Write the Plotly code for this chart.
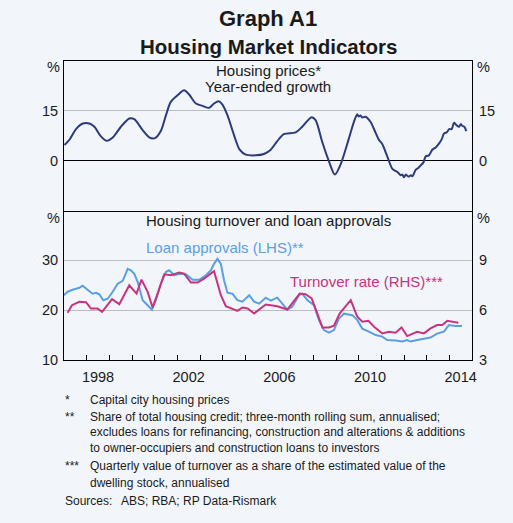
import plotly.graph_objects as go

# ---------------- data ----------------
price_x = [1997.02, 1997.24, 1997.53, 1997.83, 1998.12, 1998.34, 1998.63, 1998.88,
           1999.15, 1999.51, 1999.88, 2000.10, 2000.47, 2000.76, 2001.02, 2001.27,
           2001.50, 2001.71, 2002.01, 2002.30, 2002.52, 2002.82, 2003.11, 2003.40,
           2003.62, 2003.82, 2003.99, 2004.21, 2004.50, 2004.75, 2005.02, 2005.46,
           2005.82, 2006.12, 2006.41, 2006.70, 2007.22, 2007.51, 2007.92, 2008.10,
           2008.39, 2008.69, 2008.95, 2009.20, 2009.57, 2009.79, 2009.94, 2010.00,
           2010.08, 2010.16, 2010.30, 2010.52, 2010.74, 2010.89, 2011.04, 2011.26,
           2011.48, 2011.60, 2011.71, 2011.85, 2011.93, 2012.00, 2012.08, 2012.20,
           2012.30, 2012.37, 2012.52, 2012.63, 2012.74, 2012.85, 2012.96, 2013.10,
           2013.25, 2013.40, 2013.55, 2013.66, 2013.77, 2013.90, 2013.99, 2014.10,
           2014.21, 2014.30, 2014.43, 2014.50, 2014.57, 2014.66, 2014.75]
price_y = [4.7, 6.3, 9.5, 11.2, 11.2, 10.2, 7.3, 6.0,
           7.0, 10.2, 12.7, 12.5, 9.2, 7.0, 6.8, 8.9,
           13.7, 17.7, 19.7, 21.2, 19.9, 17.2, 16.5, 15.9,
           17.2, 17.9, 16.9, 13.7, 7.7, 3.3, 1.8, 1.6,
           2.0, 3.3, 5.9, 8.0, 8.5, 10.2, 13.1, 12.2,
           5.7, -0.2, -4.2, -1.2, 6.7, 11.7, 14.0, 13.3,
           13.6, 13.0, 13.2, 11.7, 8.5, 6.3, 5.0, 1.3,
           -2.4, -3.0, -3.4, -4.4, -4.2, -5.0, -4.2, -4.8,
           -4.4, -4.7, -2.7, -2.2, -1.4, -0.6, 1.3, 1.6,
           3.3, 4.0, 5.2, 6.4, 8.2, 8.6, 9.5, 9.5,
           11.4, 10.8, 10.2, 11.0, 10.5, 10.2, 8.9]

loan_x = [1996.99, 1997.16, 1997.38, 1997.68, 1997.82, 1998.04, 1998.26, 1998.41,
          1998.56, 1998.73, 1998.93, 1999.15, 1999.37, 1999.59, 1999.66, 1999.81,
          1999.95, 2000.10, 2000.25, 2000.47, 2000.69, 2000.88, 2001.05, 2001.27,
          2001.50, 2001.64, 2001.86, 2002.08, 2002.38, 2002.67, 2002.96, 2003.26,
          2003.48, 2003.62, 2003.77, 2003.92, 2004.06, 2004.21, 2004.43, 2004.65,
          2004.87, 2005.17, 2005.39, 2005.61, 2005.90, 2006.12, 2006.41, 2006.63,
          2006.85, 2007.07, 2007.37, 2007.51, 2007.74, 2008.03, 2008.25, 2008.47,
          2008.69, 2008.91, 2009.13, 2009.35, 2009.72, 2009.94, 2010.16, 2010.45,
          2010.75, 2011.04, 2011.26, 2011.63, 2011.92, 2012.14, 2012.29, 2012.58,
          2012.88, 2013.17, 2013.46, 2013.76, 2013.98, 2014.27, 2014.56]
loan_y = [23.0, 23.7, 24.1, 24.5, 24.9, 24.0, 23.3, 23.5,
          23.2, 22.0, 22.3, 23.7, 25.3, 25.9, 26.7, 28.3,
          28.0, 27.3, 25.7, 22.0, 21.0, 20.1, 22.0, 25.3,
          27.7, 28.0, 27.0, 27.3, 27.2, 26.1, 26.1, 27.0,
          28.0, 29.3, 30.3, 29.3, 26.0, 23.5, 23.3, 22.0,
          21.7, 23.0, 21.7, 21.3, 22.5, 21.9, 22.5, 21.3,
          20.1, 20.7, 23.0, 23.3, 22.0, 21.0, 18.0, 16.0,
          15.5, 16.0, 18.3, 19.3, 19.0, 18.0, 16.3, 15.7,
          15.0, 14.7, 14.0, 13.9, 13.7, 14.0, 13.7, 14.0,
          14.3, 14.5, 15.3, 15.7, 17.0, 16.8, 16.8]

turn_x = [1997.16, 1997.35, 1997.68, 1997.97, 1998.19, 1998.48, 1998.68, 1999.12,
          1999.44, 1999.88, 2000.20, 2000.42, 2000.69, 2000.91, 2001.13, 2001.42,
          2001.72, 2002.08, 2002.30, 2002.60, 2002.89, 2003.18, 2003.62, 2003.92,
          2004.14, 2004.65, 2004.87, 2005.10, 2005.39, 2005.90, 2006.41, 2006.85,
          2007.40, 2007.66, 2007.93, 2008.22, 2008.40, 2008.69, 2008.91, 2009.16,
          2009.65, 2009.94, 2010.16, 2010.43, 2010.68, 2011.04, 2011.33, 2011.63,
          2011.89, 2012.14, 2012.58, 2012.88, 2013.17, 2013.46, 2013.69, 2013.91,
          2014.21, 2014.40]
turn_y = [5.84, 6.3, 6.5, 6.48, 6.1, 6.1, 5.9, 6.66,
          6.36, 7.5, 7.0, 7.84, 7.1, 6.16, 7.0, 8.16,
          8.1, 8.26, 8.2, 7.66, 7.66, 7.9, 8.35, 6.9,
          6.24, 5.96, 6.16, 6.1, 5.8, 6.34, 6.24, 6.04,
          7.0, 6.96, 6.7, 5.6, 4.96, 4.96, 5.06, 5.8,
          6.6, 5.6, 5.3, 5.36, 5.0, 4.6, 4.7, 4.64,
          4.96, 4.44, 4.7, 4.6, 4.9, 5.1, 5.1, 5.36,
          5.3, 5.24]

year_label_pos = [1998.5, 2002.5, 2006.5, 2010.5, 2014.5]
year_labels = ["1998", "2002", "2006", "2010", "2014"]
year_ticks = list(range(1998, 2015))

top_ticks = [0, 15]
top_labels = ["0", "15"]
lhs_ticks = [10, 20, 30]
lhs_labels = ["10", "20", "30"]
rhs_ticks = [3, 6, 9]
rhs_labels = ["3", "6", "9"]

# ---------------- styling ----------------
BG = "#F2F6FA"
NAVY = "#2C3B7C"
BLUE = "#5B9FE3"
MAGENTA = "#C8327F"
GRID = "#BDBDBD"
FONT = "Liberation Sans, Arial, sans-serif"
TXT = "#1a1a1a"

fig = go.Figure()
fig.add_trace(go.Scatter(x=price_x, y=price_y, mode="lines", xaxis="x2", yaxis="y",
                         line=dict(color=NAVY, width=2, shape="spline", smoothing=0.8),
                         hoverinfo="skip", showlegend=False))
fig.add_trace(go.Scatter(x=loan_x, y=loan_y, mode="lines", xaxis="x", yaxis="y2",
                         line=dict(color=BLUE, width=2), showlegend=False))
fig.add_trace(go.Scatter(x=turn_x, y=turn_y, mode="lines", xaxis="x", yaxis="y4",
                         line=dict(color=MAGENTA, width=2), showlegend=False))
# right-hand axis of top panel (same scale as left)
fig.add_trace(go.Scatter(x=price_x, y=price_y, mode="lines", xaxis="x2", yaxis="y3",
                         line=dict(color="rgba(0,0,0,0)", width=0),
                         hoverinfo="skip", showlegend=False))

tickfont = dict(family=FONT, size=14.5, color=TXT)
xr = [1997, 2015]

fig.update_layout(
    width=513, height=523,
    margin=dict(l=64, r=41, t=61, b=163),
    paper_bgcolor=BG, plot_bgcolor=BG,
    font=dict(family=FONT, color=TXT),
    xaxis=dict(domain=[0, 1], anchor="y2", range=xr, showgrid=False, zeroline=False,
               showline=True, linecolor="black", linewidth=1,
               tickmode="array", tickvals=year_label_pos, ticktext=year_labels,
               ticks="", tickfont=tickfont, ticklabelstandoff=4,
               minor=dict(tickmode="array", tickvals=year_ticks, ticks="inside",
                          ticklen=5, tickcolor="black", tickwidth=1, showgrid=False)),
    xaxis2=dict(domain=[0, 1], anchor="y", range=xr, showgrid=False, zeroline=False,
                showline=True, mirror=True, linecolor="black", linewidth=1,
                showticklabels=False, ticks=""),
    yaxis=dict(domain=[0.5, 1], anchor="x2", range=[-15, 30], tickmode="array",
               tickvals=top_ticks, ticktext=top_labels, showgrid=True, gridcolor=GRID,
               gridwidth=1, zeroline=True, zerolinecolor="black", zerolinewidth=1,
               showline=True, linecolor="black", linewidth=1, ticks="",
               tickfont=tickfont, ticklabelstandoff=2),
    yaxis3=dict(overlaying="y", side="right", anchor="x2", range=[-15, 30],
                tickmode="array", tickvals=top_ticks, ticktext=top_labels,
                showgrid=False, zeroline=False, showline=True, linecolor="black",
                linewidth=1, ticks="", tickfont=tickfont, ticklabelstandoff=3),
    yaxis2=dict(domain=[0, 0.5], anchor="x", range=[10, 40], tickmode="array",
                tickvals=lhs_ticks, ticktext=lhs_labels, showgrid=True, gridcolor=GRID,
                gridwidth=1, zeroline=False, showline=True, linecolor="black",
                linewidth=1, ticks="", tickfont=tickfont, ticklabelstandoff=2),
    yaxis4=dict(overlaying="y2", side="right", anchor="x", range=[3, 12],
                tickmode="array", tickvals=rhs_ticks, ticktext=rhs_labels,
                showgrid=False, zeroline=False, showline=True, linecolor="black",
                linewidth=1, ticks="", tickfont=tickfont, ticklabelstandoff=3),
)

ann = []
def text(x, y, s, size=15, color=TXT, xanchor="center", yanchor="middle",
         xref="paper", yref="paper", bold=False, xshift=0, yshift=0):
    ann.append(dict(x=x, y=y, xref=xref, yref=yref, text=(f"<b>{s}</b>" if bold else s),
                    showarrow=False, xanchor=xanchor, yanchor=yanchor,
                    xshift=xshift, yshift=yshift,
                    font=dict(family=FONT, size=size, color=color)))

W, H = 513, 523
L, R, T, B = 64, 472, 61, 360
def px(xp):  # pixel x -> paper
    return (xp - L) / (R - L)
def py(yp):  # pixel y -> paper
    return (B - yp) / (B - T)

# titles
text(px(268), py(18), "Graph A1", size=22, bold=True)
text(px(268), py(46), "Housing Market Indicators", size=20.5, bold=True)

# % unit labels
for yy in (67, 218):
    text(0, py(yy), "%", size=14.5, xanchor="right", xshift=-2)
    text(1, py(yy), "%", size=14.5, xanchor="left", xshift=3)

# panel titles and series labels
text(px(268), py(70), "Housing prices*", size=15)
text(px(268), py(86), "Year-ended growth", size=15)
text(px(268), py(220), "Housing turnover and loan approvals", size=15)
text(px(144), py(247), "Loan approvals (LHS)**", size=15, color=BLUE, xanchor="left")
text(px(288), py(281), "Turnover rate (RHS)***", size=15, color=MAGENTA, xanchor="left")

# footnotes
foot = [
    (400, "*", "Capital city housing prices"),
    (416.5, "**", "Share of total housing credit; three-month rolling sum, annualised;"),
    (432, "", "excludes loans for refinancing, construction and alterations &amp; additions"),
    (448, "", "to owner-occupiers and construction loans to investors"),
    (466.5, "***", "Quarterly value of turnover as a share of the estimated value of the"),
    (482.5, "", "dwelling stock, annualised"),
]
for yy, mark, s in foot:
    if mark:
        text(px(63), py(yy), mark, size=12, xanchor="left")
    text(px(88), py(yy), s, size=12, xanchor="left")
text(px(63), py(500.5), "Sources:", size=12, xanchor="left")
text(px(119), py(500.5), "ABS; RBA; RP Data-Rismark", size=12, xanchor="left")

fig.update_layout(annotations=ann)
fig.write_html("out.html")
